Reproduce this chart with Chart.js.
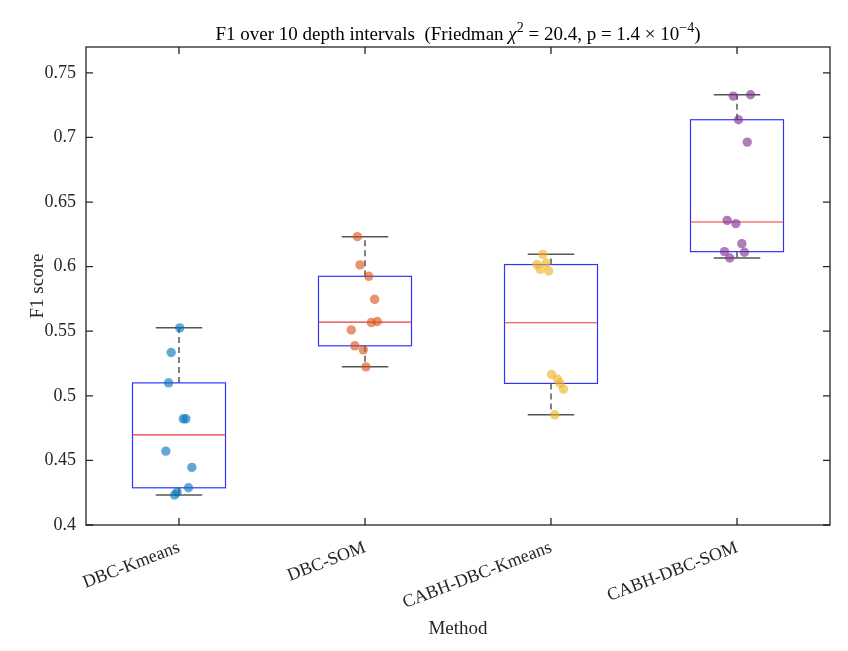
<!DOCTYPE html>
<html lang="en">
<head>
    <meta charset="UTF-8">
    <title>F1 over 10 depth intervals</title>
    <style>
        body { margin: 0; background: #fff; }
        canvas { display: block; }
    </style>
    <script src="https://cdn.jsdelivr.net/npm/chart.js"></script>
</head>
<body>
    <canvas id="f1Chart" width="848" height="651"></canvas>

    <script>
        // Methods on the x axis
        const categories = ['DBC-Kmeans', 'DBC-SOM', 'CABH-DBC-Kmeans', 'CABH-DBC-SOM'];

        // F1 score per depth interval (10 intervals)
        const f1DbcKmeans     = [0.5526, 0.5335, 0.5100, 0.4822, 0.4822, 0.4572, 0.4446, 0.4288, 0.4255, 0.4232];
        const f1DbcSom        = [0.6232, 0.6013, 0.5925, 0.5747, 0.5567, 0.5575, 0.5510, 0.5387, 0.5356, 0.5224];
        const f1CabhKmeans    = [0.6095, 0.6016, 0.6028, 0.5979, 0.5966, 0.5165, 0.5129, 0.5096, 0.5052, 0.4853];
        const f1CabhSom       = [0.7320, 0.7330, 0.7137, 0.6964, 0.6358, 0.6333, 0.6178, 0.6116, 0.6111, 0.6067];

        // horizontal jitter of each dot (in category units)
        const jitDbcKmeans  = [0.004, -0.042, -0.056, 0.023, 0.037, -0.071, 0.069, 0.051, -0.010, -0.024];
        const jitDbcSom     = [-0.041, -0.027, 0.020, 0.052, 0.034, 0.066, -0.074, -0.055, -0.009, 0.005];
        const jitCabhKmeans = [-0.044, -0.076, -0.026, -0.058, -0.012, 0.003, 0.035, 0.049, 0.067, 0.020];
        const jitCabhSom    = [-0.020, 0.073, 0.008, 0.055, -0.053, -0.006, 0.026, -0.067, 0.040, -0.039];

        const yTicks = [0.4, 0.45, 0.5, 0.55, 0.6, 0.65, 0.7, 0.75];

        const groups = [f1DbcKmeans, f1DbcSom, f1CabhKmeans, f1CabhSom];
        const jitters = [jitDbcKmeans, jitDbcSom, jitCabhKmeans, jitCabhSom];
        const dotColors = ['rgba(0,114,189,0.62)', 'rgba(217,83,25,0.62)', 'rgba(237,177,32,0.62)', 'rgba(126,47,142,0.62)'];

        const SERIF = '"Liberation Serif", "Times New Roman", serif';
        const AXIS = '#262626';

        // MATLAB style box stats: quartiles by linear interpolation, whiskers = min/max
        function quantile(sorted, p) {
            const n = sorted.length;
            const pos = n * p + 0.5;
            if (pos <= 1) return sorted[0];
            if (pos >= n) return sorted[n - 1];
            const lo = Math.floor(pos);
            const f = pos - lo;
            return sorted[lo - 1] + f * (sorted[lo] - sorted[lo - 1]);
        }
        function boxStats(vals) {
            const s = vals.slice().sort((a, b) => a - b);
            return { min: s[0], q1: quantile(s, 0.25), med: quantile(s, 0.5), q3: quantile(s, 0.75), max: s[s.length - 1] };
        }
        const stats = groups.map(boxStats);

        // boxes + whiskers under the dots
        const boxPlugin = {
            id: 'boxes',
            beforeDatasetsDraw(chart) {
                const { ctx, scales: { x, y } } = chart;
                ctx.save();
                stats.forEach((st, i) => {
                    const c = i + 1;
                    const xl = x.getPixelForValue(c - 0.25), xr = x.getPixelForValue(c + 0.25);
                    const cl = x.getPixelForValue(c - 0.125), cr = x.getPixelForValue(c + 0.125);
                    const xc = x.getPixelForValue(c);
                    const yMin = y.getPixelForValue(st.min), yMax = y.getPixelForValue(st.max);
                    const yQ1 = y.getPixelForValue(st.q1), yQ3 = y.getPixelForValue(st.q3);
                    const yMed = y.getPixelForValue(st.med);

                    // whiskers (dashed)
                    ctx.strokeStyle = '#555';
                    ctx.lineWidth = 1.5;
                    ctx.setLineDash([6, 4]);
                    ctx.beginPath();
                    ctx.moveTo(xc, yQ3); ctx.lineTo(xc, yMax);
                    ctx.moveTo(xc, yQ1); ctx.lineTo(xc, yMin);
                    ctx.stroke();
                    // caps
                    ctx.setLineDash([]);
                    ctx.beginPath();
                    ctx.moveTo(cl, yMax); ctx.lineTo(cr, yMax);
                    ctx.moveTo(cl, yMin); ctx.lineTo(cr, yMin);
                    ctx.stroke();
                    // box
                    ctx.strokeStyle = '#3333ff';
                    ctx.lineWidth = 1.2;
                    ctx.strokeRect(xl, yQ3, xr - xl, yQ1 - yQ3);
                    // median
                    ctx.strokeStyle = '#e8383d';
                    ctx.beginPath();
                    ctx.moveTo(xl, yMed); ctx.lineTo(xr, yMed);
                    ctx.stroke();
                });
                ctx.restore();
            }
        };

        // axes frame, inward ticks, title and axis labels
        const framePlugin = {
            id: 'frame',
            afterDraw(chart) {
                const { ctx, chartArea: a, scales: { x, y } } = chart;
                ctx.save();
                ctx.strokeStyle = AXIS;
                ctx.lineWidth = 1.3;
                ctx.strokeRect(a.left, a.top, a.right - a.left, a.bottom - a.top);
                ctx.beginPath();
                const tl = 7;
                yTicks.forEach(v => {
                    const py = y.getPixelForValue(v);
                    ctx.moveTo(a.left, py); ctx.lineTo(a.left + tl, py);
                    ctx.moveTo(a.right, py); ctx.lineTo(a.right - tl, py);
                });
                categories.forEach((_, i) => {
                    const px = x.getPixelForValue(i + 1);
                    ctx.moveTo(px, a.bottom); ctx.lineTo(px, a.bottom - tl);
                    ctx.moveTo(px, a.top); ctx.lineTo(px, a.top + tl);
                });
                ctx.stroke();

                // title with TeX-like superscripts
                const segs = [
                    { t: 'F1 over 10 depth intervals  (Friedman ', f: '19px ' + SERIF, dy: 0 },
                    { t: 'χ', f: 'italic 19px ' + SERIF, dy: 0 },
                    { t: '2', f: '14px ' + SERIF, dy: -8 },
                    { t: ' = 20.4, p = 1.4 × 10', f: '19px ' + SERIF, dy: 0 },
                    { t: '−4', f: '14px ' + SERIF, dy: -8 },
                    { t: ')', f: '19px ' + SERIF, dy: 0 }
                ];
                let total = 0;
                segs.forEach(s => { ctx.font = s.f; s.w = ctx.measureText(s.t).width; total += s.w; });
                let tx = (a.left + a.right) / 2 - total / 2;
                ctx.fillStyle = '#000';
                ctx.textBaseline = 'alphabetic';
                ctx.textAlign = 'left';
                segs.forEach(s => {
                    ctx.font = s.f;
                    ctx.fillText(s.t, tx, 40 + s.dy);
                    tx += s.w;
                });

                // axis titles
                ctx.fillStyle = AXIS;
                ctx.font = '19px ' + SERIF;
                ctx.textAlign = 'center';
                ctx.textBaseline = 'middle';
                ctx.fillText('Method', (a.left + a.right) / 2, 629);
                ctx.translate(38, (a.top + a.bottom) / 2);
                ctx.rotate(-Math.PI / 2);
                ctx.fillText('F1 score', 0, 0);
                ctx.restore();
            }
        };

        const datasets = groups.map((vals, i) => ({
            label: categories[i],
            data: vals.map((v, k) => ({ x: i + 1 + jitters[i][k], y: v })),
            backgroundColor: dotColors[i],
            borderWidth: 0,
            pointRadius: 4.7,
            pointHoverRadius: 4.7
        }));

        const ctx = document.getElementById('f1Chart').getContext('2d');
        new Chart(ctx, {
            type: 'scatter',
            data: { datasets },
            plugins: [boxPlugin, framePlugin],
            options: {
                responsive: false,
                animation: false,
                devicePixelRatio: 1,
                layout: { padding: { top: 47, right: 18, left: 0, bottom: 0 } },
                plugins: { legend: { display: false }, tooltip: { enabled: false }, title: { display: false } },
                scales: {
                    x: {
                        type: 'linear',
                        min: 0.5,
                        max: 4.5,
                        grid: { display: false, drawTicks: false },
                        border: { display: false },
                        afterBuildTicks: s => { s.ticks = categories.map((_, i) => ({ value: i + 1 })); },
                        afterFit: s => { s.height = 126; s.paddingLeft = 0; s.paddingRight = 0; },
                        ticks: {
                            autoSkip: false,
                            minRotation: 21,
                            maxRotation: 21,
                            padding: 12,
                            color: AXIS,
                            font: { family: SERIF, size: 18 },
                            callback: v => categories[Math.round(v) - 1] || ''
                        }
                    },
                    y: {
                        min: 0.4,
                        max: 0.77,
                        grid: { display: false, drawTicks: false },
                        border: { display: false },
                        afterBuildTicks: s => { s.ticks = yTicks.map(v => ({ value: v })); },
                        afterFit: s => { s.width = 86; s.paddingTop = 0; s.paddingBottom = 0; },
                        ticks: {
                            padding: 10,
                            color: AXIS,
                            font: { family: SERIF, size: 18 },
                            callback: v => String(Number(v.toFixed(2)))
                        }
                    }
                }
            }
        });
    </script>
</body>
</html>
